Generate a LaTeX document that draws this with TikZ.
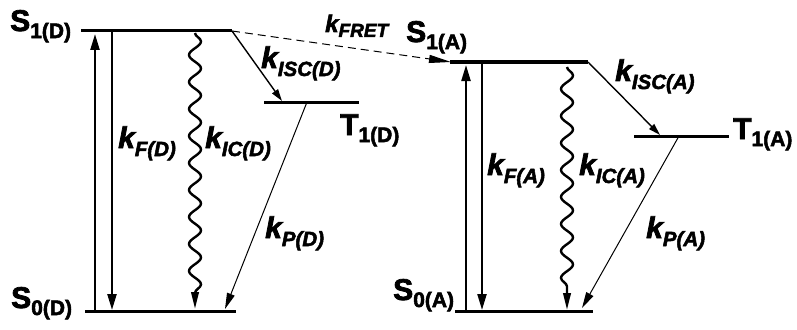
\documentclass[tikz,border=0pt]{standalone}
\usepackage{fontspec}
\setmainfont{Liberation Sans}[BoldFeatures={FakeBold=2.5},BoldItalicFeatures={FakeBold=2.5}]
\usetikzlibrary{arrows.meta,decorations.pathmorphing}
\newcommand{\stlab}[2]{{\fontsize{30}{30}\selectfont\bfseries #1}\raisebox{-7pt}{\fontsize{21}{21}\selectfont\bfseries #2}}
\newcommand{\klab}[1]{{\fontsize{30}{30}\selectfont\bfseries\itshape k}\raisebox{-8pt}{\fontsize{20.5}{20.5}\selectfont\bfseries\itshape #1}}
\newcommand{\kfret}{{\fontsize{24}{24}\selectfont\bfseries\itshape k}\raisebox{-5pt}{\fontsize{19}{19}\selectfont\bfseries\itshape FRET}}
\begin{document}
\begin{tikzpicture}[x=1pt,y=-1pt,
  lvl/.style={line width=3pt},
  radarr/.style={line width=2.2pt,-{Triangle[length=16pt,width=9pt]}},
  wavy/.style={line width=2.4pt,decorate,decoration={snake,amplitude=6pt,segment length=27pt,post length=16pt},-{Triangle[length=17pt,width=7.5pt]}},
  iscarr/.style={line width=1.4pt,-{Triangle[length=12pt,width=7pt]}},
  parr/.style={line width=1pt,-{Triangle[length=16pt,width=8pt]}},
  fretarr/.style={line width=1pt,dash pattern=on 8pt off 5pt,-{Triangle[length=22pt,width=8pt]}},
  lab/.style={inner sep=0pt,anchor=base west}]
\useasboundingbox (0,0) rectangle (797,329);
% level end points
\coordinate (s1dl) at (81,31);  \coordinate (s1dr) at (232,31);
\coordinate (s0dl) at (85,311); \coordinate (s0dr) at (236,311);
\coordinate (t1dl) at (264,102); \coordinate (t1dr) at (359,102);
\coordinate (s1al) at (450,62); \coordinate (s1ar) at (588,62);
\coordinate (s0al) at (455,311); \coordinate (s0ar) at (593,311);
\coordinate (t1al) at (634,136); \coordinate (t1ar) at (729,136);
% transition end points
\coordinate (upDb) at (95,311);  \coordinate (upDt) at (95,34);
\coordinate (fDt) at (112,31);   \coordinate (fDb) at (112,310);
\coordinate (icDt) at (195,33);  \coordinate (icDb) at (195,309);
\coordinate (iscDe) at (282,101);
\coordinate (pDt) at (307,102);  \coordinate (pDb) at (225,309);
\coordinate (fretE) at (451,62);
\coordinate (upAb) at (466,311); \coordinate (upAt) at (466,65);
\coordinate (fAt) at (482,62);   \coordinate (fAb) at (482,310);
\coordinate (icAt) at (567,67);  \coordinate (icAb) at (567,310);
\coordinate (iscAe) at (660,135);
\coordinate (pAt) at (679,136);  \coordinate (pAb) at (582,308);
% levels
\draw[lvl] (s1dl) -- (s1dr);
\draw[lvl] (s0dl) -- (s0dr);
\draw[lvl] (t1dl) -- (t1dr);
\draw[lvl] (s1al) -- (s1ar);
\draw[lvl] (s0al) -- (s0ar);
\draw[lvl] (t1al) -- (t1ar);
% donor transitions
\draw[radarr] (upDb) -- (upDt);
\draw[radarr] (fDt) -- (fDb);
\draw[wavy] (icDt) -- (icDb);
\draw[iscarr] (s1dr) -- (iscDe);
\draw[parr] (pDt) -- (pDb);
\draw[fretarr] (s1dr) -- (fretE);
% acceptor transitions
\draw[radarr] (upAb) -- (upAt);
\draw[radarr] (fAt) -- (fAb);
\draw[wavy] (icAt) -- (icAb);
\draw[iscarr] (s1ar) -- (iscAe);
\draw[parr] (pAt) -- (pAb);
% labels
\node[lab] (lS1D) at (10,31) {\stlab{S}{1(D)}};
\node[lab] (lS0D) at (11,308) {\stlab{S}{0(D)}};
\node[lab] (lT1D) at (340,135) {\stlab{T}{1(D)}};
\node[lab] (lS1A) at (406,42) {\stlab{S}{1(A)}};
\node[lab] (lS0A) at (393,300) {\stlab{S}{0(A)}};
\node[lab] (lT1A) at (733,139) {\stlab{T}{1(A)}};
\node[lab] (lFRET) at (325,32) {\kfret};
\node[lab] (lISCD) at (261,68) {\klab{ISC(D)}};
\node[lab] (lFD) at (118,148) {\klab{F(D)}};
\node[lab] (lICD) at (205,148) {\klab{IC(D)}};
\node[lab] (lPD) at (265,238) {\klab{P(D)}};
\node[lab] (lISCA) at (615,81) {\klab{ISC(A)}};
\node[lab] (lFA) at (487,175) {\klab{F(A)}};
\node[lab] (lICA) at (579,175) {\klab{IC(A)}};
\node[lab] (lPA) at (646,238) {\klab{P(A)}};
\end{tikzpicture}
\end{document}
